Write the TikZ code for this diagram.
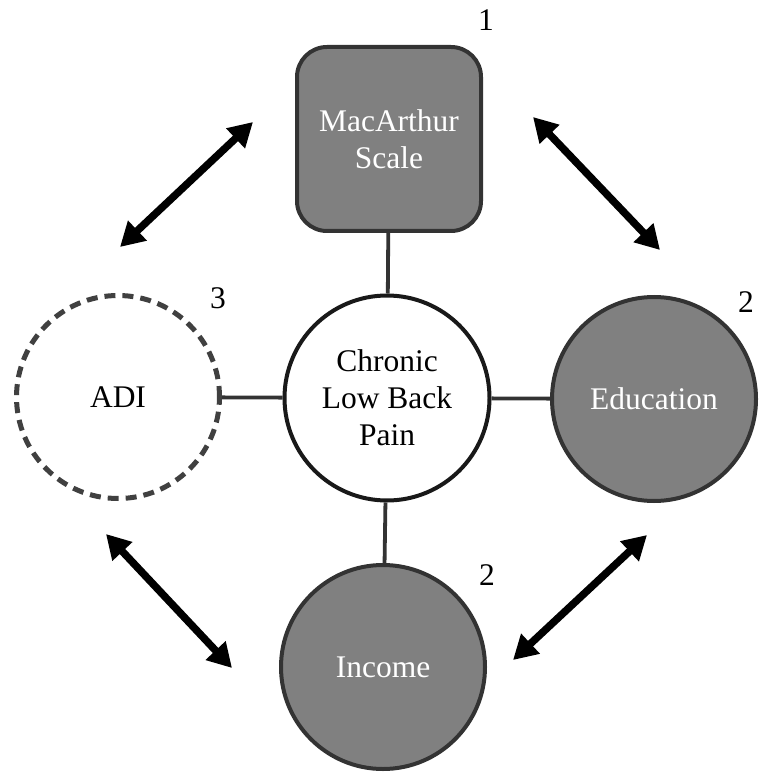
\documentclass[tikz,border=0pt]{standalone}
\usepackage{fontspec}
\setmainfont{Liberation Serif}
\usetikzlibrary{positioning,arrows.meta}

\begin{document}
\begin{tikzpicture}[x=1pt, y=-1pt,
    every node/.style={font=\fontsize{31.5}{37}\selectfont},
    factor/.style={draw=black!80, line width=4pt, fill=black!50, text=white, align=center},
    link/.style={draw=black!80, line width=3.8pt},
    rel/.style={line width=7.5pt, {Triangle[length=24pt,width=26pt]}-{Triangle[length=24pt,width=26pt]}}]
    \useasboundingbox (0,0) rectangle (758,775);

    % Outcome in the middle
    \node[circle, draw=black!90, line width=4pt, fill=white, align=center, minimum size=205pt] (pain) at (387,398) {Chronic\\Low Back\\Pain};

    % SES measures
    \node[factor, rectangle, rounded corners=30pt, minimum width=184pt, minimum height=184pt] (mac) at (389,139) {MacArthur\\Scale};
    \node[factor, circle, minimum size=204pt] (edu) at (654,399) {Education};
    \node[factor, circle, minimum size=204pt] (inc) at (383,667) {Income};
    \node[circle, draw=black!75, line width=5pt, dash pattern=on 11pt off 7pt, minimum size=203pt] (adi) at (118,397) {ADI};

    % Numbers
    \node (num-mac) at (486,20) {1};
    \node (num-edu) at (746,302) {2};
    \node (num-inc) at (487,575) {2};
    \node (num-adi) at (218,298) {3};

    \draw[link] (pain) -- (mac);
    \draw[link] (pain) -- (edu);
    \draw[link] (pain) -- (inc);
    \draw[link] (pain) -- (adi);

    % Associations between measures
    \coordinate (tl-a) at (120,247);
    \coordinate (tl-b) at (253,122);
    \coordinate (tr-a) at (533,117);
    \coordinate (tr-b) at (660,250);
    \coordinate (bl-a) at (106,534);
    \coordinate (bl-b) at (232,668);
    \coordinate (br-a) at (513,660);
    \coordinate (br-b) at (647,535);

    \draw[rel] (tl-a) -- (tl-b);
    \draw[rel] (tr-a) -- (tr-b);
    \draw[rel] (bl-a) -- (bl-b);
    \draw[rel] (br-a) -- (br-b);
\end{tikzpicture}
\end{document}
